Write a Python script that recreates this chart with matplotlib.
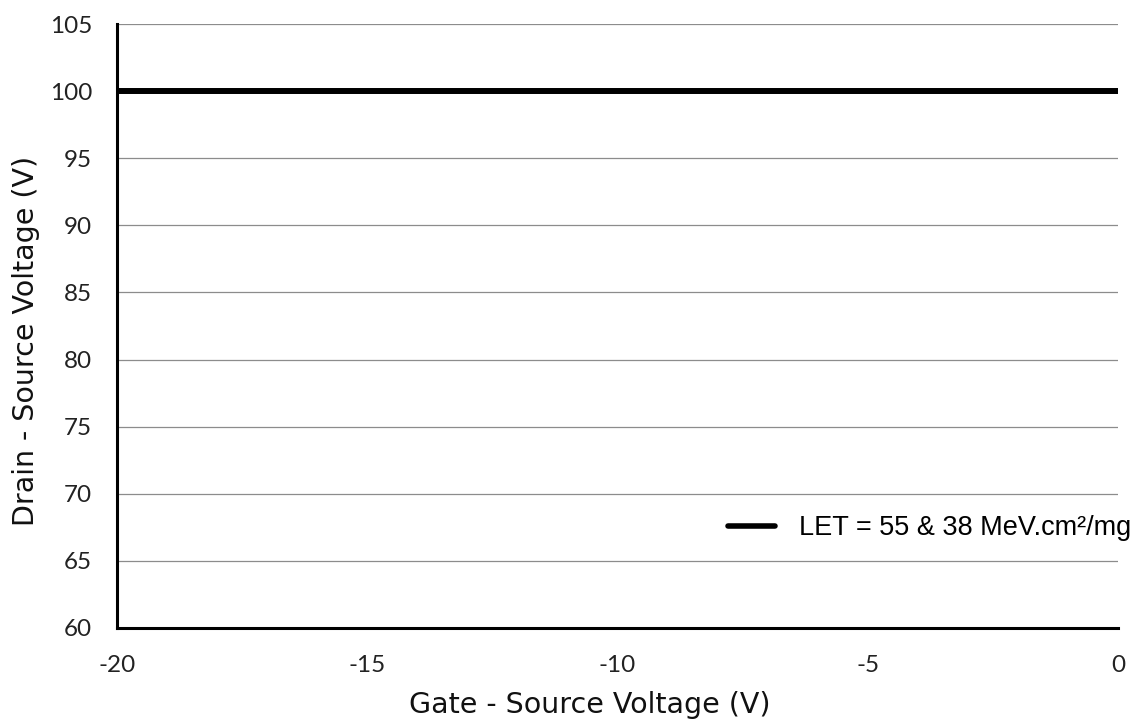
import matplotlib
matplotlib.use("Agg")
import matplotlib.pyplot as plt

gate_source_v = [-20, 0]
drain_source_v = [100, 100]
series_label = "LET = 55 & 38 MeV.cm²/mg"
x_ticks = [-20, -15, -10, -5, 0]
y_ticks = [60, 65, 70, 75, 80, 85, 90, 95, 100, 105]

W, H = 1144, 727
fig = plt.figure(figsize=(W / 100, H / 100), dpi=100)
ax = fig.add_axes([117 / W, 1 - 628 / H, (1118 - 117) / W, (628 - 24) / H])

line, = ax.plot(gate_source_v, drain_source_v, color="black", linewidth=4.3,
                label=series_label, solid_capstyle="butt", zorder=3)

ax.set_xlim(-20, 0)
ax.set_ylim(60, 105)
ax.set_xticks(x_ticks)
ax.set_yticks(y_ticks)
ax.set_xticklabels([str(t) for t in x_ticks], family="Lato", fontsize=17.5, color="#222222")
ax.set_yticklabels([str(t) for t in y_ticks], family="Lato", fontsize=17.5, color="#222222")
ax.tick_params(axis="y", length=0, pad=18)
ax.tick_params(axis="x", length=0, pad=19.5)

ax.grid(axis="y", color="#8c8c8c", linewidth=0.9)
ax.set_axisbelow(True)

for s in ["top", "right"]:
    ax.spines[s].set_visible(False)
ax.spines["left"].set_linewidth(2.2)
ax.spines["bottom"].set_linewidth(2.2)

ax.set_xlabel("Gate - Source Voltage (V)", family="DejaVu Sans", fontsize=20.5, color="#111111")
ax.set_ylabel("Drain - Source Voltage (V)", family="DejaVu Sans", fontsize=20.5, color="#111111")
ax.xaxis.set_label_coords((590 - 117) / 1001, (628 - 691) / 604)
ax.yaxis.set_label_coords((40 - 117) / 1001, (628 - 341) / 604)

leg = ax.legend(loc="center left", bbox_to_anchor=(728 / W, 1 - 528 / H),
                bbox_transform=fig.transFigure, frameon=False, borderpad=0,
                borderaxespad=0, prop={"family": "Liberation Sans", "size": 19.5},
                handlelength=1.72, handletextpad=0.9)
for h in leg.get_lines():
    h.set_solid_capstyle("round")
    h.set_linewidth(4.0)

fig.savefig("out.png", dpi=100)
